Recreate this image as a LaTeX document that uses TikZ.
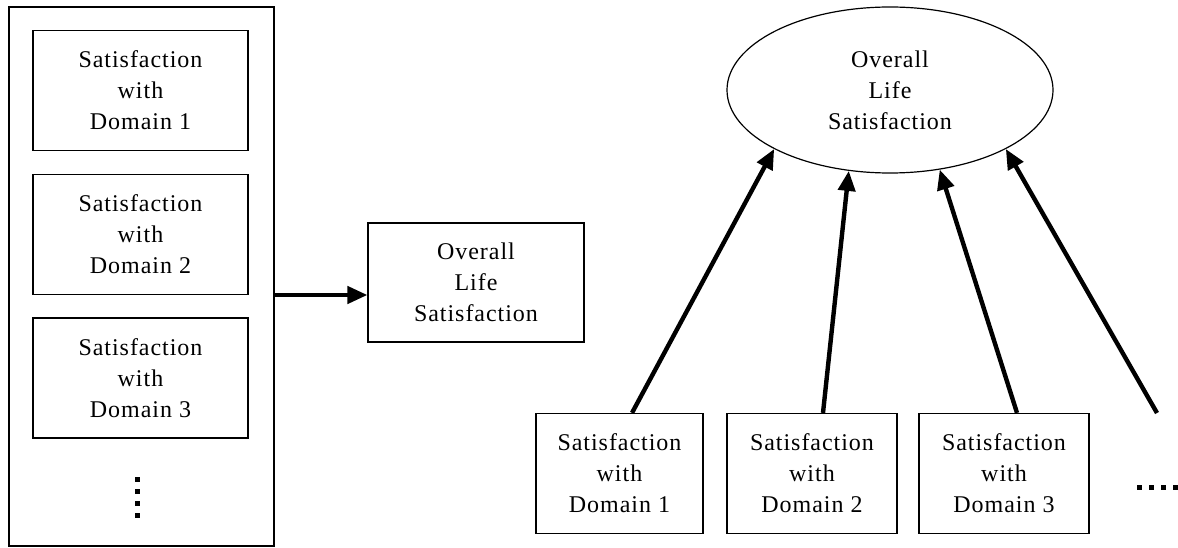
\documentclass[tikz,border=0pt]{standalone}
\usepackage{fontspec}
\setmainfont{Liberation Serif}[LetterSpace=4.0]
\usetikzlibrary{shapes.geometric,arrows.meta}
\begin{document}
\begin{tikzpicture}[x=1pt,y=-1pt,
  every node/.style={font=\fontsize{24}{31}\selectfont, align=center, inner sep=0pt},
  dombox/.style={draw, line width=1.2pt, rectangle, minimum width=#1, minimum height=120pt},
  dombox/.default=170pt,
  outerbox/.style={draw, line width=1.2pt, rectangle, minimum width=265pt, minimum height=539pt},
  latent/.style={draw, line width=1.2pt, ellipse, minimum width=326pt, minimum height=166pt},
  arr/.style={line width=4.4pt, -{Triangle[length=20pt,width=17pt]}}
]
\useasboundingbox[fill=white] (0,0) rectangle (1178,548);

% left model
\node[outerbox] (outer) at (141.5,276.5) {};
\node[dombox=215pt] (l1) at (140.5,90.5) {Satisfaction\\with\\Domain 1};
\node[dombox=215pt] (l2) at (140.5,234.5) {Satisfaction\\with\\Domain 2};
\node[dombox=215pt] (l3) at (140.5,378) {Satisfaction\\with\\Domain 3};
\foreach \yy in {479,491,503,515} \fill (135,\yy-2.5) rectangle (140,\yy+2.5);

\node[dombox=216pt, minimum height=119pt] (mid) at (476,282.5) {Overall\\Life\\Satisfaction};
\coordinate (midin) at ([yshift=-12.5pt]mid.west);
\draw[arr] (outer.east |- midin) -- (midin);

% right model
\node[latent] (ell) at (890,90) {Overall\\Life\\Satisfaction};
\node[dombox=167pt] (r1) at (619.5,473.5) {Satisfaction\\with\\Domain 1};
\node[dombox=170pt] (r2) at (812,473.5) {Satisfaction\\with\\Domain 2};
\node[dombox=170pt] (r3) at (1004,473.5) {Satisfaction\\with\\Domain 3};
\coordinate (r4) at (1157,413);

\draw[arr] ([xshift=12.5pt]r1.north) -- (ell.207.5);
\draw[arr] ([xshift=11pt]r2.north) -- (ell.243.7);
\draw[arr] ([xshift=13pt]r3.north) -- (ell.302.3);
\draw[arr] (r4) -- (ell.333.6);
\foreach \xx in {1139,1151,1163,1175} \fill (\xx-2.5,484.5) rectangle (\xx+2.5,489.5);
\end{tikzpicture}
\end{document}
